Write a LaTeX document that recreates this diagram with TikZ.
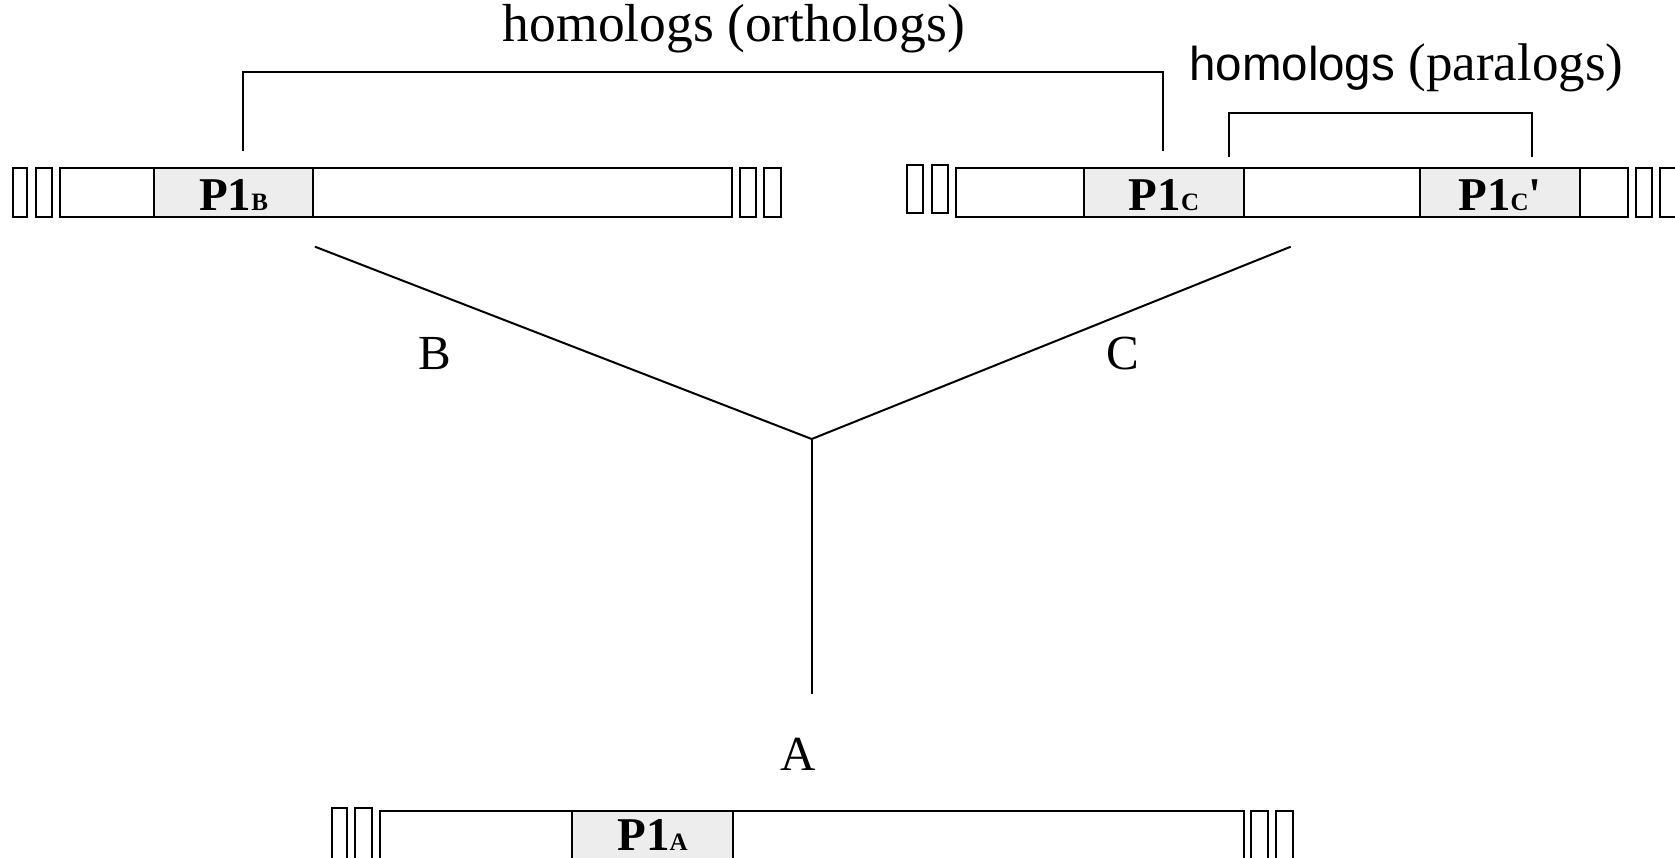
\documentclass[tikz,border=0pt]{standalone}
\usepackage{fontspec}
\setmainfont{Liberation Serif}
\newfontfamily\grotesk{Liberation Sans}
\newfontfamily\rawserif[Ligatures=TeXOff]{Liberation Serif}
\definecolor{hitgray}{HTML}{EDEDED}
% small-cap style suffix for the protein labels
\newcommand\hitsub[1]{{\fontsize{25}{25}\selectfont #1}}
\begin{document}
\begin{tikzpicture}[x=1pt,y=-1pt,
  seg/.style={draw=black,line width=1.9pt,fill=white},
  hit/.style={draw=black,line width=1.9pt,fill=hitgray,minimum height=48.4pt,
    inner sep=0pt},
  hitlbl/.style={inner sep=0pt,anchor=base,font=\fontsize{47}{47}\selectfont\bfseries},
  tree/.style={line width=2pt},
  brk/.style={line width=1.9pt},
  lbl/.style={inner sep=0pt,anchor=base,font=\fontsize{49}{49}\selectfont}]
\useasboundingbox (0,0) rectangle (1675,857);

% ---- chromosome of species B ----
\draw[seg] (12.7,168.3) rectangle (27.3,216.7);
\draw[seg] (36,168.3) rectangle (51.7,216.7);
\draw[seg] (60,168.3) rectangle (732.3,216.7);
\draw[seg] (740,168.3) rectangle (756,216.7);
\draw[seg] (764,168.3) rectangle (780.7,216.7);
\node[hit,minimum width=159.3pt] (p1b) at (233.7,192.5) {};
\node[hitlbl] (p1bt) at (233.7,210) {P1\hitsub{B}};

% ---- chromosome of species C ----
\draw[seg] (907.3,165) rectangle (923.3,213.3);
\draw[seg] (931.7,165) rectangle (948.3,213.3);
\draw[seg] (956,168.3) rectangle (1628.3,216.7);
\draw[seg] (1636,168.3) rectangle (1651.7,216.7);
\draw[seg] (1660,168.3) rectangle (1680,216.7);
\node[hit,minimum width=160pt] (p1c) at (1164,192.5) {};
\node[hitlbl] (p1ct) at (1164,210) {P1\hitsub{C}};
\node[hit,minimum width=160pt] (p1cp) at (1500,192.5) {};
\node[hitlbl] (p1cpt) at (1500,210) {P1\hitsub{C}{\rawserif\bfseries '}};

% ---- chromosome of species A (runs off the lower edge) ----
\draw[seg] (331.7,807.7) rectangle (347.3,870);
\draw[seg] (355,807.7) rectangle (371.7,870);
\draw[seg] (380,810.7) rectangle (1244.3,870);
\draw[seg] (1250.7,810.7) rectangle (1268.3,870);
\draw[seg] (1276,810.7) rectangle (1292.7,870);
\node[hit,minimum width=160.4pt,minimum height=59.3pt] (p1a) at (652.5,840.35) {};
\node[hitlbl] (p1at) at (652.5,850.5) {P1\hitsub{A}};

% ---- species tree ----
\coordinate (root) at (811.7,439);
\coordinate (tipB) at (315,246.7);
\coordinate (tipC) at (1290.7,246.7);
\coordinate (tipA) at (811.7,694);
\draw[tree] (tipB) -- (root) -- (tipC);
\draw[tree] (root) -- (tipA);
\node[lbl] (labB) at (435,369.5) {B};
\node[lbl] (labC) at (1122.5,369.5) {C};
\node[lbl] (labA) at (798,770) {A};

% ---- homology brackets ----
\coordinate (orthL) at (243,150.6);
\coordinate (orthR) at (1163.4,150.6);
\draw[brk] (orthL) -- ++(0,-79) -| (orthR);
\node[inner sep=0pt,anchor=base,font=\fontsize{53.5}{53.5}\selectfont] (orthlab) at (734,41.7) {homologs (orthologs)};

\coordinate (paraL) at (1229.3,156.7);
\coordinate (paraR) at (1532.3,156.7);
\draw[brk] (paraL) -- ++(0,-44) -| (paraR);
\node[inner sep=0pt,anchor=base west,font=\fontsize{53}{53}\selectfont] (paralab) at (1189,80) {{\grotesk\fontsize{47.5}{47.5}\selectfont homologs} (paralogs)};
\end{tikzpicture}
\end{document}
